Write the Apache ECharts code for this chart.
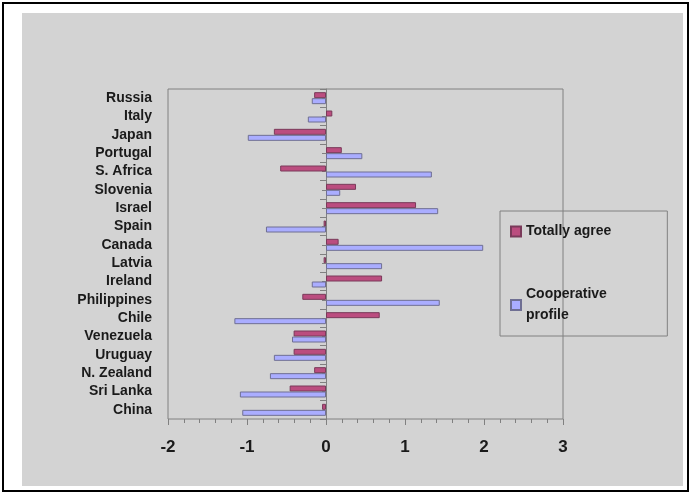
<!DOCTYPE html>
<html>
<head>
<meta charset="utf-8">
<script src="https://cdn.jsdelivr.net/npm/echarts@6/dist/echarts.min.js"></script>
<style>
  body { margin: 0; background: #fff; }
  #frame { position: absolute; left: 2px; top: 2px; width: 683px; height: 486px; border: 2px solid #000; }
  #main { position: absolute; left: 22px; top: 13px; width: 661px; height: 473px; background: #d3d3d3; }
</style>
</head>
<body>
<div id="frame"></div>
<div id="main"></div>
<script>
    // rows, top to bottom
    var countries = ['Russia', 'Italy', 'Japan', 'Portugal', 'S. Africa', 'Slovenia', 'Israel', 'Spain', 'Canada',
                     'Latvia', 'Ireland', 'Philippines', 'Chile', 'Venezuela', 'Uruguay', 'N. Zealand', 'Sri Lanka', 'China'];
    var agree = [-0.15, 0.08, -0.66, 0.20, -0.58, 0.38, 1.14, -0.03, 0.16,
                 -0.03, 0.71, -0.30, 0.68, -0.41, -0.41, -0.15, -0.46, -0.05];
    var profile = [-0.18, -0.23, -0.99, 0.46, 1.34, 0.18, 1.42, -0.76, 1.99,
                   0.71, -0.18, 1.44, -1.16, -0.43, -0.66, -0.71, -1.09, -1.06];
    var xTicks = [-2, -1, 0, 1, 2, 3];

    var names = ['Totally agree', 'Cooperative\nprofile'];

    var myChart = echarts.init(document.getElementById('main'));

    var option = {
        animation: false,
        textStyle: { fontFamily: 'Liberation Sans, Arial, sans-serif' },
        grid: {
            left: 146, top: 76, width: 395, height: 330,
            show: true, borderColor: '#808080', borderWidth: 1, backgroundColor: 'transparent'
        },
        legend: {
            orient: 'vertical',
            left: 478, top: 198,
            padding: [10, 56, 10, 10],
            itemGap: 42,
            itemWidth: 10, itemHeight: 10,
            icon: 'rect',
            borderColor: '#808080', borderWidth: 1,
            textStyle: { fontSize: 14, fontWeight: 'bold', color: '#1a1a1a', lineHeight: 21 },
            data: names
        },
        xAxis: {
            type: 'value',
            min: xTicks[0], max: xTicks[xTicks.length - 1], interval: 1,
            axisLine: { onZero: false, lineStyle: { color: '#808080' } },
            axisTick: { show: true, length: 6, lineStyle: { color: '#808080' } },
            minorTick: { show: true, splitNumber: 5, length: 4, lineStyle: { color: '#808080' } },
            splitLine: { show: false },
            axisLabel: { margin: 20, fontSize: 17, fontWeight: 'bold', color: '#1a1a1a' }
        },
        yAxis: [
            {
                type: 'category', inverse: true, data: countries,
                axisLine: { show: false, onZero: false }, axisTick: { show: false },
                axisLabel: { interval: 0, margin: 16, fontSize: 14, fontWeight: 'bold', color: '#1a1a1a' }
            },
            {
                type: 'category', inverse: true, data: countries, position: 'left',
                axisLine: { show: true, onZero: true, onZeroAxisIndex: 0, lineStyle: { color: '#808080' } },
                axisTick: { show: true, interval: 0, length: 6, lineStyle: { color: '#808080' } },
                axisLabel: { show: false }
            },
            {
                type: 'category', inverse: true, data: countries, position: 'left',
                axisLine: { show: false, onZero: true, onZeroAxisIndex: 0 },
                axisTick: { show: true, interval: 0, alignWithLabel: true, length: 4, lineStyle: { color: '#808080' } },
                axisLabel: { show: false }
            }
        ],
        series: [
            {
                name: names[0], type: 'bar', data: agree,
                barWidth: 6, barGap: '0%',
                itemStyle: { color: '#bb4d7f', borderColor: '#7a3a5a', borderWidth: 1 }
            },
            {
                name: names[1], type: 'bar', data: profile,
                barWidth: 6, barGap: '0%',
                itemStyle: { color: '#aaadff', borderColor: '#6f6f93', borderWidth: 1 }
            }
        ]
    };

    myChart.setOption(option);
</script>
</body>
</html>
